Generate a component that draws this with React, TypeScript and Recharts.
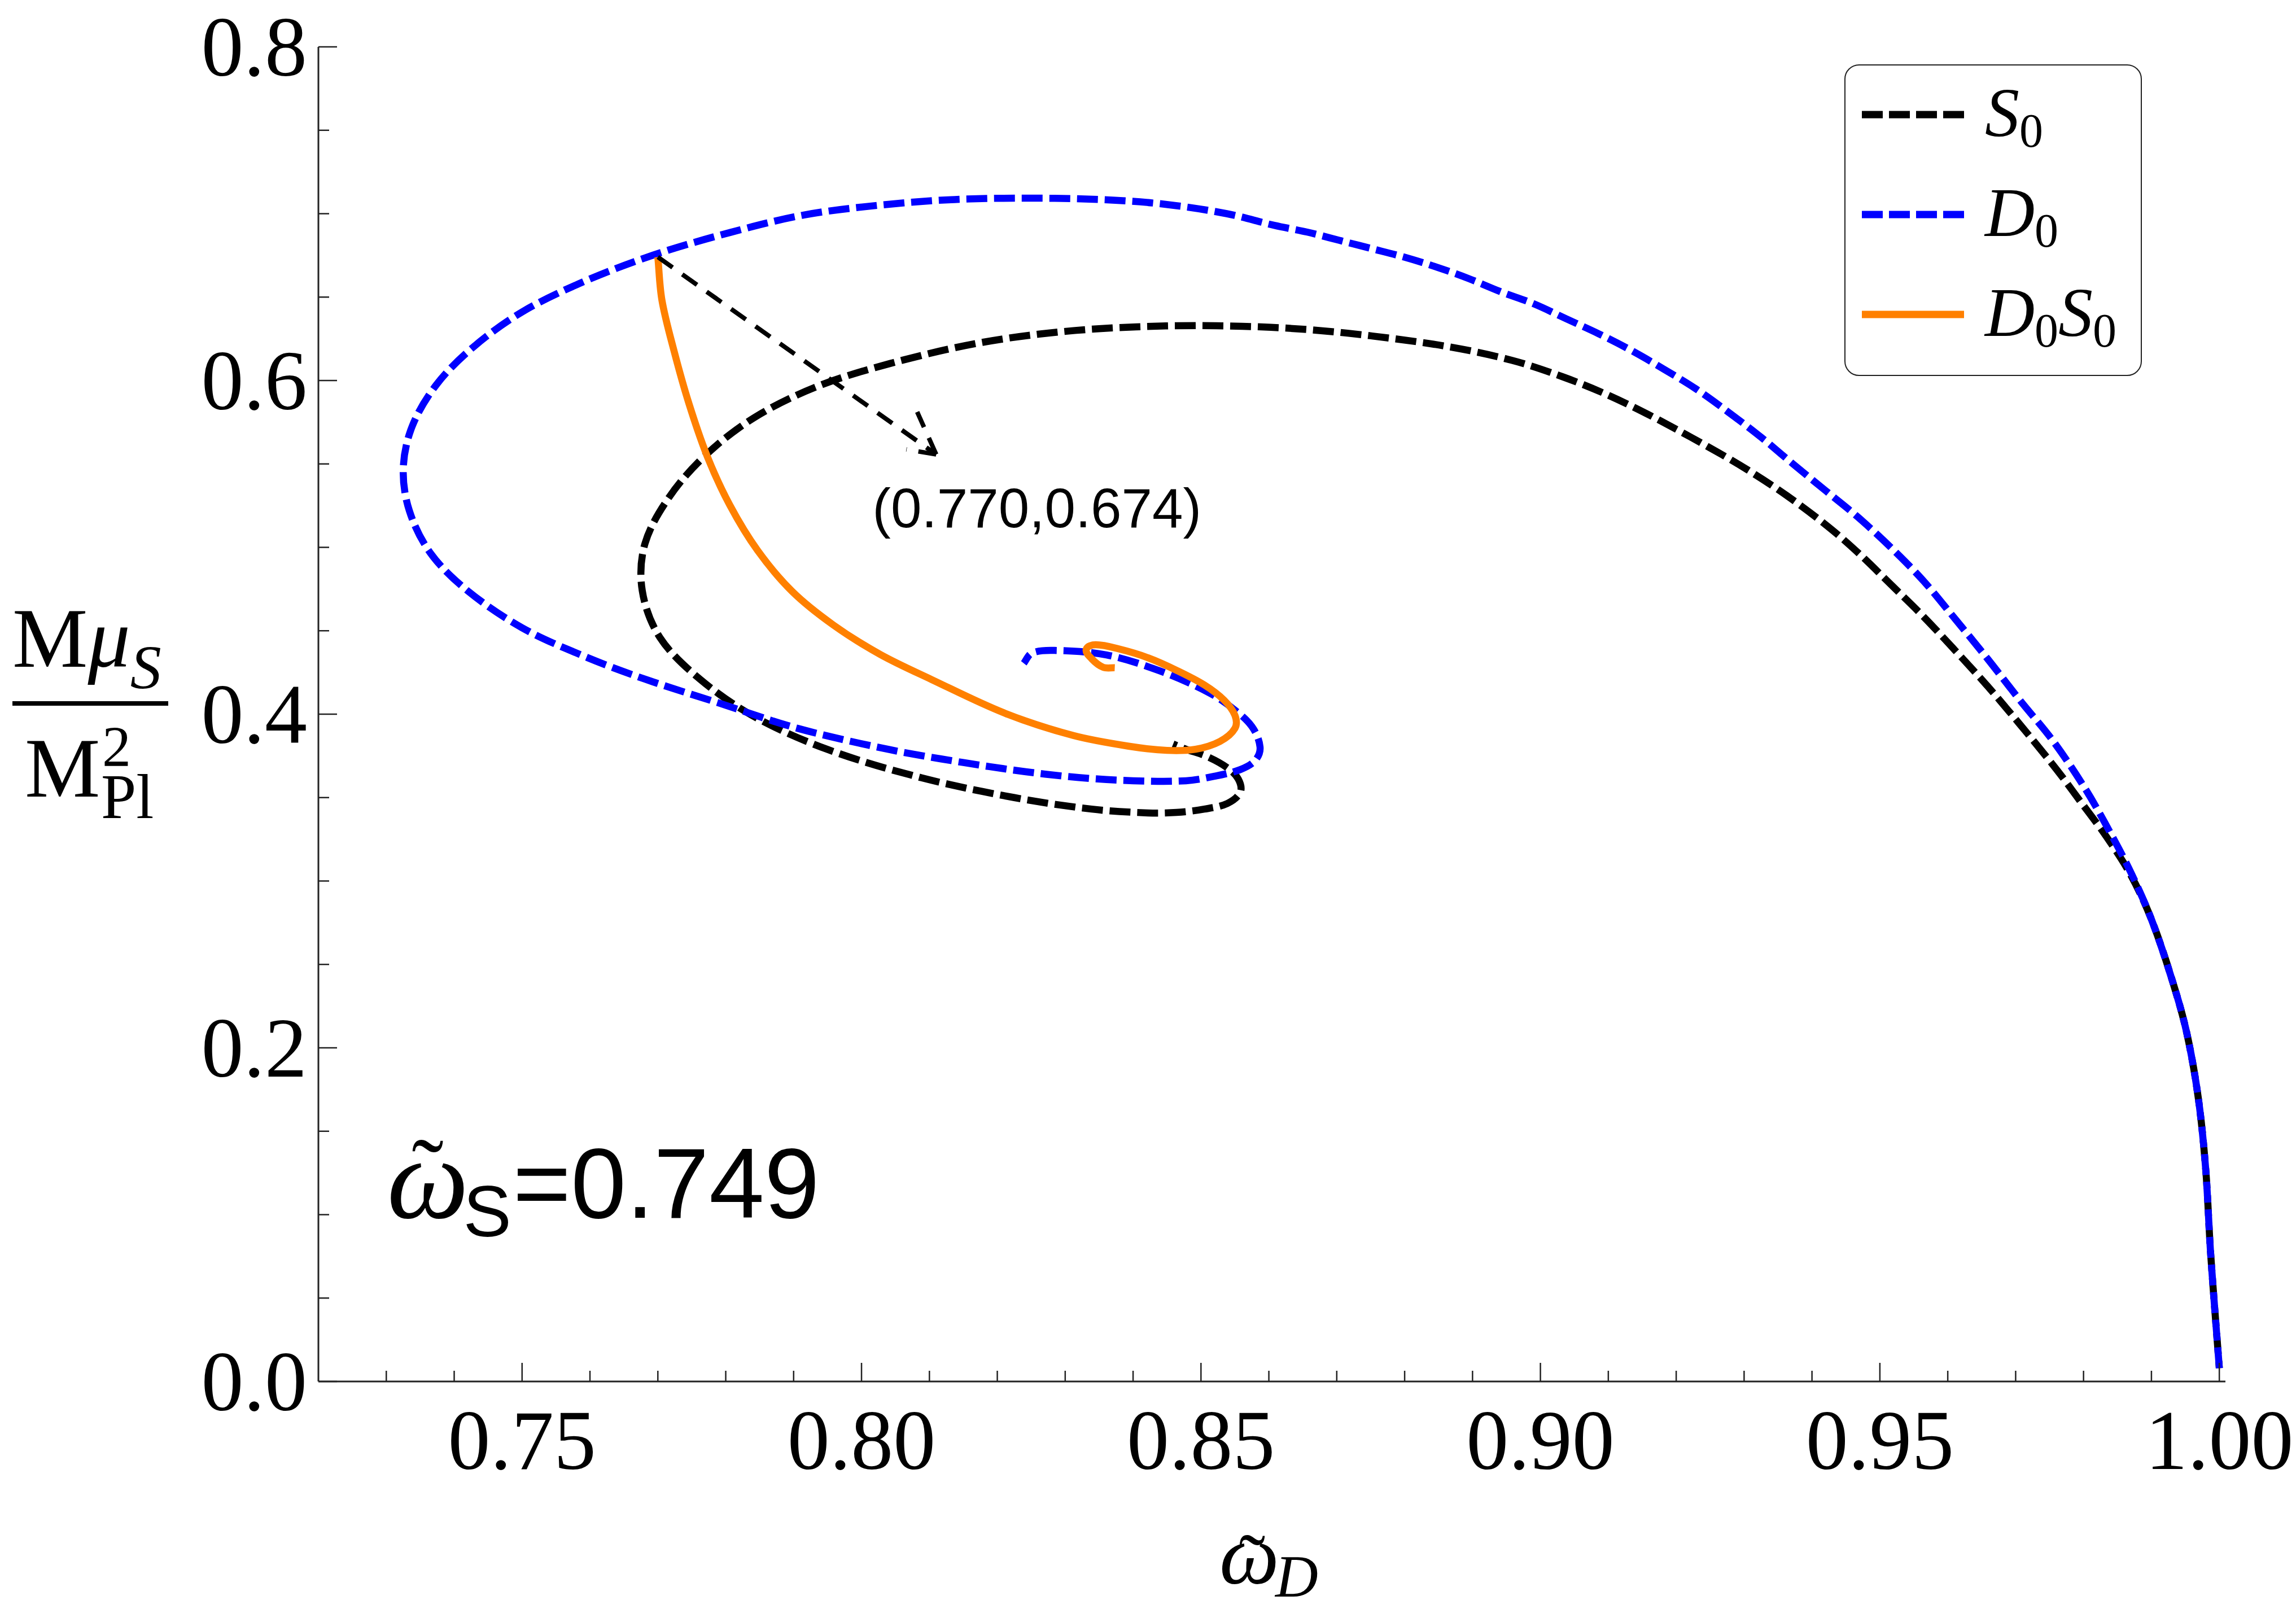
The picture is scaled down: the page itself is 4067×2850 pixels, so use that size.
import React from 'react';
import { LineChart, Line, XAxis, YAxis, ReferenceLine, ReferenceDot, Legend } from 'recharts';

const W = 4067;
const H = 2850;
const SERIF = '"Liberation Serif", "Times New Roman", serif';
const SANS = '"Liberation Sans", Arial, sans-serif';
const FRAME = '#222';

// ---- ticks / labels ----
const X_TICKS = [0.73, 0.74, 0.75, 0.76, 0.77, 0.78, 0.79, 0.8, 0.81, 0.82, 0.83, 0.84, 0.85, 0.86, 0.87, 0.88, 0.89, 0.9, 0.91, 0.92, 0.93, 0.94, 0.95, 0.96, 0.97, 0.98, 0.99, 1.0];
const X_LABELS = ['0.75', '0.80', '0.85', '0.90', '0.95', '1.00'];
const Y_TICKS = [0, 0.05, 0.1, 0.15, 0.2, 0.25, 0.3, 0.35, 0.4, 0.45, 0.5, 0.55, 0.6, 0.65, 0.7, 0.75, 0.8];
const Y_LABELS = ['0.0', '0.2', '0.4', '0.6', '0.8'];
const X_DOMAIN = [0.72, 1.0009];
const Y_DOMAIN = [0, 0.8];

// ---- series (x = omega_D, y = M mu_S / M_Pl^2) ----
const S0 = [
  { x: 1.0, y: 0.008 }, { x: 0.9987, y: 0.078 }, { x: 0.998, y: 0.127 }, { x: 0.9969, y: 0.17 },
  { x: 0.9952, y: 0.209 }, { x: 0.9931, y: 0.24 }, { x: 0.99, y: 0.277 }, { x: 0.9869, y: 0.304 },
  { x: 0.9833, y: 0.327 }, { x: 0.9795, y: 0.3479 }, { x: 0.976, y: 0.367 }, { x: 0.9706, y: 0.394 },
  { x: 0.9656, y: 0.418 }, { x: 0.9607, y: 0.4399 }, { x: 0.9563, y: 0.459 }, { x: 0.9513, y: 0.479 },
  { x: 0.947, y: 0.496 }, { x: 0.9425, y: 0.512 }, { x: 0.9363, y: 0.531 }, { x: 0.9303, y: 0.547 },
  { x: 0.9246, y: 0.5605 }, { x: 0.9169, y: 0.5775 }, { x: 0.91, y: 0.5912 }, { x: 0.9033, y: 0.6022 },
  { x: 0.8958, y: 0.6121 }, { x: 0.8863, y: 0.6204 }, { x: 0.8752, y: 0.6267 }, { x: 0.8656, y: 0.6306 },
  { x: 0.8561, y: 0.6325 }, { x: 0.8448, y: 0.6327 }, { x: 0.8312, y: 0.6299 }, { x: 0.8177, y: 0.6228 },
  { x: 0.8042, y: 0.6102 }, { x: 0.7934, y: 0.5963 }, { x: 0.7843, y: 0.578 }, { x: 0.7771, y: 0.5555 },
  { x: 0.7717, y: 0.5303 }, { x: 0.7681, y: 0.5022 }, { x: 0.7677, y: 0.4741 }, { x: 0.7703, y: 0.446 },
  { x: 0.7762, y: 0.421 }, { x: 0.7843, y: 0.3983 }, { x: 0.7951, y: 0.3787 }, { x: 0.8087, y: 0.362 },
  { x: 0.8225, y: 0.35 }, { x: 0.8339, y: 0.3431 }, { x: 0.8422, y: 0.3408 }, { x: 0.8464, y: 0.3411 },
  { x: 0.8505, y: 0.3431 }, { x: 0.8539, y: 0.3465 }, { x: 0.8558, y: 0.3533 }, { x: 0.8555, y: 0.3611 },
  { x: 0.8539, y: 0.3678 }, { x: 0.8509, y: 0.3746 }, { x: 0.8478, y: 0.379 }, { x: 0.8459, y: 0.3821 },
];

const D0 = [
  { x: 1.0, y: 0.008 }, { x: 0.9987, y: 0.078 }, { x: 0.998, y: 0.127 }, { x: 0.9969, y: 0.17 },
  { x: 0.9952, y: 0.209 }, { x: 0.9931, y: 0.24 }, { x: 0.99, y: 0.277 }, { x: 0.9871, y: 0.304 },
  { x: 0.9842, y: 0.327 }, { x: 0.9803, y: 0.355 }, { x: 0.9755, y: 0.384 }, { x: 0.9707, y: 0.408 },
  { x: 0.9659, y: 0.433 }, { x: 0.9611, y: 0.457 }, { x: 0.9564, y: 0.48 }, { x: 0.9516, y: 0.5 },
  { x: 0.9468, y: 0.518 }, { x: 0.942, y: 0.534 }, { x: 0.9372, y: 0.55 }, { x: 0.9325, y: 0.566 },
  { x: 0.9277, y: 0.581 }, { x: 0.9229, y: 0.595 }, { x: 0.9181, y: 0.607 }, { x: 0.9134, y: 0.618 },
  { x: 0.9086, y: 0.628 }, { x: 0.9038, y: 0.637 }, { x: 0.899, y: 0.646 }, { x: 0.8943, y: 0.653 },
  { x: 0.8895, y: 0.661 }, { x: 0.8847, y: 0.668 }, { x: 0.8799, y: 0.674 }, { x: 0.8752, y: 0.679 },
  { x: 0.8704, y: 0.684 }, { x: 0.8656, y: 0.689 }, { x: 0.8608, y: 0.693 }, { x: 0.8538, y: 0.7 },
  { x: 0.8448, y: 0.7056 }, { x: 0.8357, y: 0.7084 }, { x: 0.824, y: 0.7093 }, { x: 0.8132, y: 0.7084 },
  { x: 0.8024, y: 0.705 }, { x: 0.7915, y: 0.6992 }, { x: 0.7807, y: 0.6888 }, { x: 0.7694, y: 0.6753 },
  { x: 0.7591, y: 0.6593 }, { x: 0.75, y: 0.6411 }, { x: 0.7428, y: 0.62 }, { x: 0.7374, y: 0.5976 },
  { x: 0.7338, y: 0.5724 }, { x: 0.7325, y: 0.5472 }, { x: 0.7334, y: 0.5219 }, { x: 0.7365, y: 0.4966 },
  { x: 0.7419, y: 0.4742 }, { x: 0.75, y: 0.4518 }, { x: 0.7591, y: 0.4348 }, { x: 0.7681, y: 0.421 },
  { x: 0.7789, y: 0.4068 }, { x: 0.7906, y: 0.3915 }, { x: 0.8042, y: 0.3787 }, { x: 0.815, y: 0.371 },
  { x: 0.8242, y: 0.3655 }, { x: 0.832, y: 0.362 }, { x: 0.84, y: 0.3601 }, { x: 0.8478, y: 0.3601 },
  { x: 0.852, y: 0.3628 }, { x: 0.8558, y: 0.3668 }, { x: 0.858, y: 0.3723 }, { x: 0.8587, y: 0.3803 },
  { x: 0.8575, y: 0.3926 }, { x: 0.8545, y: 0.404 }, { x: 0.8509, y: 0.4135 }, { x: 0.8439, y: 0.426 },
  { x: 0.8361, y: 0.4355 }, { x: 0.8284, y: 0.4382 }, { x: 0.8251, y: 0.4366 }, { x: 0.8239, y: 0.4305 },
];

const D0S0 = [
  { x: 0.77, y: 0.674 }, { x: 0.7706, y: 0.6482 }, { x: 0.7724, y: 0.6175 }, { x: 0.7746, y: 0.5859 },
  { x: 0.7773, y: 0.5543 }, { x: 0.7806, y: 0.5253 }, { x: 0.7847, y: 0.4981 }, { x: 0.7898, y: 0.4735 },
  { x: 0.7959, y: 0.4533 }, { x: 0.8028, y: 0.4357 }, { x: 0.8103, y: 0.4208 }, { x: 0.8211, y: 0.4006 },
  { x: 0.8312, y: 0.3872 }, { x: 0.8395, y: 0.3807 }, { x: 0.845, y: 0.3783 }, { x: 0.8492, y: 0.379 },
  { x: 0.8528, y: 0.3837 }, { x: 0.855, y: 0.3915 }, { x: 0.855, y: 0.3993 }, { x: 0.8534, y: 0.4084 },
  { x: 0.8505, y: 0.4175 }, { x: 0.8464, y: 0.4263 }, { x: 0.8422, y: 0.4338 }, { x: 0.8381, y: 0.4389 },
  { x: 0.8345, y: 0.4416 }, { x: 0.8331, y: 0.4389 }, { x: 0.8339, y: 0.4332 }, { x: 0.8356, y: 0.4281 },
  { x: 0.8373, y: 0.4278 },
];

// ---- annotations ----
const ARROW_START = { x: 0.77, y: 0.674 };
const ARROW_TIP = { x: 0.811, y: 0.5557 };
const ARROW_WINGS = [{ x: 0.8082, y: 0.5812 }, { x: 0.8066, y: 0.5587 }];
const POINT_LABEL = '(0.770,0.674)';
const POINT_LABEL_AT = { x: 0.8016, y: 0.512 };
const OMEGA_S_VALUE = '0.749';
const OMEGA_S_AT = { x: 0.7306, y: 0.0981 };

const LEGEND = [
  { key: 'S0', parts: [['S', '0']], color: '#000000', dash: '37 11' },
  { key: 'D0', parts: [['D', '0']], color: '#0000FF', dash: '37 11' },
  { key: 'D0S0', parts: [['D', '0'], ['S', '0']], color: '#FF8000', dash: undefined as string | undefined },
];

const X_MAJOR = X_LABELS.map((t) => ({ v: parseFloat(t), t }));
const Y_MAJOR = Y_LABELS.map((t) => ({ v: parseFloat(t), t }));
const findMajor = (list: { v: number; t: string }[], v: number) => list.find((m) => Math.abs(m.v - v) < 1e-6);

// smooth parametric curve (tangent-scaled cubic Hermite through all points)
const smoothCurve: any = (context: any) => {
  let pts: number[][] = [];
  return {
    areaStart() {},
    areaEnd() {},
    lineStart() { pts = []; },
    point(x: number, y: number) { pts.push([+x, +y]); },
    lineEnd() {
      const n = pts.length;
      if (!n) return;
      context.moveTo(pts[0][0], pts[0][1]);
      if (n === 1) return;
      const tan = pts.map((_, i) => {
        const a = pts[Math.max(0, i - 1)];
        const b = pts[Math.min(n - 1, i + 1)];
        const dx = b[0] - a[0];
        const dy = b[1] - a[1];
        const l = Math.hypot(dx, dy) || 1;
        return [dx / l, dy / l];
      });
      for (let i = 0; i < n - 1; i++) {
        const p = pts[i];
        const q = pts[i + 1];
        const d = Math.hypot(q[0] - p[0], q[1] - p[1]) / 3;
        context.bezierCurveTo(
          p[0] + tan[i][0] * d, p[1] + tan[i][1] * d,
          q[0] - tan[i + 1][0] * d, q[1] - tan[i + 1][1] * d,
          q[0], q[1],
        );
      }
    },
  };
};

// ---- ticks ----
const BottomTick = (props: any) => {
  const { x, y, payload } = props;
  const m = findMajor(X_MAJOR, payload.value);
  return (
    <g>
      <line x1={x} x2={x} y1={y} y2={y - (m ? 33 : 19)} stroke={FRAME} strokeWidth={2.5} />
      {m && (
        <text x={x} y={y + 155} textAnchor="middle" fontSize={150} fontFamily={SERIF} fill="#000">{m.t}</text>
      )}
    </g>
  );
};
const TopTick = (props: any) => {
  const { x, y, payload } = props;
  const m = findMajor(X_MAJOR, payload.value);
  return <line x1={x} x2={x} y1={y} y2={y + (m ? 33 : 19)} stroke={FRAME} strokeWidth={2.5} />;
};
const LeftTick = (props: any) => {
  const { x, y, payload } = props;
  const m = findMajor(Y_MAJOR, payload.value);
  return (
    <g>
      <line x1={x} x2={x + (m ? 33 : 19)} y1={y} y2={y} stroke={FRAME} strokeWidth={2.5} />
      {m && (
        <text x={x - 20} y={y + 51} textAnchor="end" fontSize={150} fontFamily={SERIF} fill="#000">{m.t}</text>
      )}
    </g>
  );
};
const RightTick = (props: any) => {
  const { x, y, payload } = props;
  const m = findMajor(Y_MAJOR, payload.value);
  return <line x1={x} x2={x - (m ? 33 : 19)} y1={y} y2={y} stroke={FRAME} strokeWidth={2.5} />;
};

// ---- axis titles ----
const XTitle = (props: any) => {
  const vb = props.viewBox || { x: 564, y: 2447, width: 3378, height: 300 };
  const cx = vb.x + vb.width / 2;
  const y0 = vb.y;
  return (
    <text fontFamily={SERIF} fill="#000">
      <tspan x={cx - 93} y={y0 + 358} fontSize={150} fontStyle="italic">ω</tspan>
      <tspan x={cx - 35} y={y0 + 366} fontSize={140} textAnchor="middle">˜</tspan>
      <tspan x={cx + 6} y={y0 + 381} fontSize={105} fontStyle="italic">D</tspan>
    </text>
  );
};

const YTitle = (props: any) => {
  const vb = props.viewBox || { x: 164, y: 83, width: 400, height: 2364 };
  const R = vb.x + vb.width;
  const cy = vb.y + vb.height / 2;
  return (
    <g fill="#000">
      <text fontFamily={SERIF}>
        <tspan x={R - 542} y={cy - 84} fontSize={150}>M</tspan>
        <tspan fontStyle="italic" fontSize={150}>μ</tspan>
        <tspan fontStyle="italic" fontSize={110} dy={38}>S</tspan>
        <tspan x={R - 520} y={cy + 146} fontSize={150}>M</tspan>
        <tspan x={R - 383} y={cy + 92} fontSize={102}>2</tspan>
        <tspan x={R - 385} y={cy + 184} fontSize={112}>Pl</tspan>
      </text>
      <line x1={R - 542} x2={R - 266} y1={cy - 19} y2={cy - 19} stroke="#000" strokeWidth={8} />
    </g>
  );
};

// ---- annotation shapes ----
const PointLabel = (props: any) => (
  <text x={props.cx} y={props.cy} fontFamily={SANS} fontSize={98} fill="#000">{POINT_LABEL}</text>
);

const OmegaLabel = (props: any) => {
  const { cx, cy } = props;
  return (
    <text fill="#000">
      <tspan x={cx - 6} y={cy} fontFamily={SERIF} fontStyle="italic" fontSize={205}>ω</tspan>
      <tspan x={cx + 66} y={cy - 23} fontFamily={SERIF} fontSize={170} textAnchor="middle">˜</tspan>
      <tspan x={cx + 129} y={cy + 33} fontFamily={SANS} fontSize={128}>S</tspan>
      <tspan x={cx + 217} y={cy} fontFamily={SANS} fontSize={176}>={OMEGA_S_VALUE}</tspan>
    </text>
  );
};

// ---- legend ----
const LegendBox = () => (
  <div
    style={{
      width: 527,
      height: 552,
      boxSizing: 'border-box',
      border: '2px solid #222',
      borderRadius: 26,
      background: '#fff',
    }}
  >
    <svg width={523} height={548} style={{ display: 'block' }}>
      {LEGEND.map((item, i) => {
        const ly = 87 + i * 177;
        return (
          <g key={item.key}>
            <line x1={29} x2={210} y1={ly} y2={ly} stroke={item.color} strokeWidth={13} strokeDasharray={item.dash} />
            <text x={247} y={ly + 38} fontFamily={SERIF} fontSize={122} fill="#000">
              {item.parts.map((p, j) => [
                <tspan key={'a' + j} fontStyle="italic" dy={j === 0 ? 0 : -19}>{p[0]}</tspan>,
                <tspan key={'b' + j} fontSize={84} dy={19}>{p[1]}</tspan>,
              ])}
            </text>
          </g>
        );
      })}
    </svg>
  </div>
);

export default function App() {
  return (
    <div style={{ position: 'absolute', left: 0, top: 0, width: W, height: H, background: '#fff' }}>
      <LineChart width={W} height={H} margin={{ top: 83, right: 125, bottom: 103, left: 164 }}>
        <XAxis
          xAxisId="b"
          type="number"
          dataKey="x"
          domain={X_DOMAIN}
          allowDataOverflow
          ticks={X_TICKS}
          interval={0}
          tickSize={0}
          tickMargin={0}
          tickLine={false}
          tick={BottomTick}
          axisLine={{ stroke: FRAME, strokeWidth: 3 }}
          height={300}
          label={<XTitle />}
        />
        <XAxis
          xAxisId="t"
          orientation="top"
          type="number"
          dataKey="x"
          domain={X_DOMAIN}
          allowDataOverflow
          ticks={X_TICKS}
          interval={0}
          tickSize={0}
          tickMargin={0}
          tickLine={false}
          tick={TopTick}
          axisLine={{ stroke: FRAME, strokeWidth: 3 }}
          height={0}
        />
        <YAxis
          yAxisId="l"
          type="number"
          domain={Y_DOMAIN}
          allowDataOverflow
          ticks={Y_TICKS}
          interval={0}
          tickSize={0}
          tickMargin={0}
          tickLine={false}
          tick={LeftTick}
          axisLine={{ stroke: FRAME, strokeWidth: 3 }}
          width={400}
          label={<YTitle />}
        />
        <YAxis
          yAxisId="r"
          orientation="right"
          type="number"
          domain={Y_DOMAIN}
          allowDataOverflow
          ticks={Y_TICKS}
          interval={0}
          tickSize={0}
          tickMargin={0}
          tickLine={false}
          tick={RightTick}
          axisLine={{ stroke: FRAME, strokeWidth: 3 }}
          width={0}
        />
        <Legend
          content={LegendBox}
          layout="vertical"
          align="center"
          verticalAlign="middle"
          width={527}
          height={552}
          wrapperStyle={{ left: 3267, top: 114, width: 527, height: 552 }}
        />
        <Line
          xAxisId="b"
          yAxisId="l"
          name="S0"
          data={S0}
          dataKey="y"
          type={smoothCurve}
          stroke="#000000"
          strokeWidth={12.5}
          strokeDasharray="37 12"
          strokeDashoffset={24}
          dot={false}
          activeDot={false}
          isAnimationActive={false}
        />
        <Line
          xAxisId="b"
          yAxisId="l"
          name="D0"
          data={D0}
          dataKey="y"
          type={smoothCurve}
          stroke="#0000FF"
          strokeWidth={12.5}
          strokeDasharray="37 12"
          dot={false}
          activeDot={false}
          isAnimationActive={false}
        />
        <Line
          xAxisId="b"
          yAxisId="l"
          name="D0S0"
          data={D0S0}
          dataKey="y"
          type={smoothCurve}
          stroke="#FF8000"
          strokeWidth={12.5}
          dot={false}
          activeDot={false}
          isAnimationActive={false}
        />
        <ReferenceLine
          xAxisId="b"
          yAxisId="l"
          segment={[ARROW_START, ARROW_TIP]}
          stroke="#000"
          strokeWidth={8}
          strokeDasharray="32 21"
          ifOverflow="visible"
        />
        {ARROW_WINGS.map((w, i) => (
          <ReferenceLine
            key={'wing' + i}
            xAxisId="b"
            yAxisId="l"
            segment={[ARROW_TIP, w]}
            stroke="#000"
            strokeWidth={8}
            strokeDasharray="32 21"
            ifOverflow="visible"
          />
        ))}
        <ReferenceDot
          xAxisId="b"
          yAxisId="l"
          x={POINT_LABEL_AT.x}
          y={POINT_LABEL_AT.y}
          r={5}
          shape={PointLabel}
          ifOverflow="visible"
        />
        <ReferenceDot
          xAxisId="b"
          yAxisId="l"
          x={OMEGA_S_AT.x}
          y={OMEGA_S_AT.y}
          r={5}
          shape={OmegaLabel}
          ifOverflow="visible"
        />
      </LineChart>
    </div>
  );
}
